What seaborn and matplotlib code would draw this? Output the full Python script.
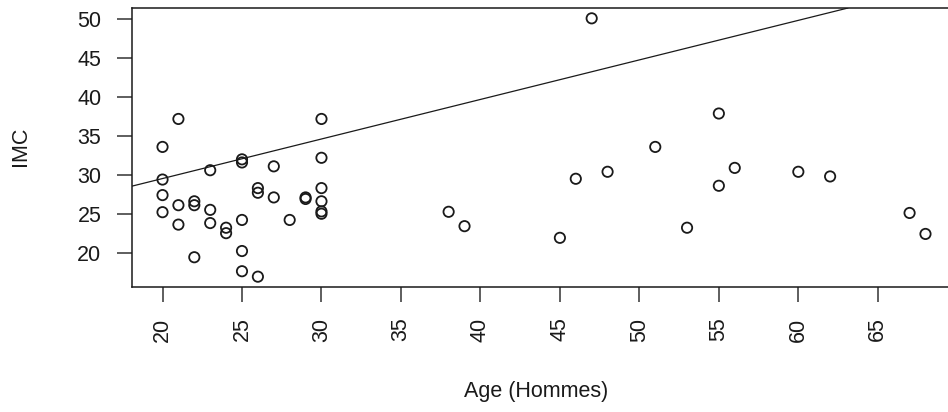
import matplotlib
matplotlib.use('Agg')
import matplotlib.pyplot as plt
import seaborn as sns
import pandas as pd

# points (age, IMC)
age = [20, 20, 20, 20, 21, 21, 21, 22, 22, 22, 23, 23, 23, 24, 24,
       25, 25, 25, 25, 25, 26, 26, 26, 27, 27, 28, 29, 29,
       30, 30, 30, 30, 30, 30,
       38, 39, 45, 46, 47, 48, 51, 53, 55, 55, 56, 60, 62, 67, 68]
imc = [33.6, 29.4, 27.4, 25.2, 37.2, 26.1, 23.6, 26.6, 26.1, 19.4, 30.6, 25.5, 23.8, 23.2, 22.5,
       32.0, 31.6, 24.2, 20.2, 17.6, 28.3, 27.7, 16.9, 31.1, 27.1, 24.2, 27.1, 26.9,
       37.2, 32.2, 28.3, 26.6, 25.3, 25.0,
       25.25, 23.4, 21.9, 29.5, 50.15, 30.4, 33.6, 23.2, 37.9, 28.6, 30.9, 30.4, 29.8, 25.1, 22.4]

# abline drawn over the plot
intercept = 19.35
slope = 0.509

x_ticks = [20, 25, 30, 35, 40, 45, 50, 55, 60, 65]
y_ticks = [20, 25, 30, 35, 40, 45, 50]

data = pd.DataFrame({'Age': age, 'IMC': imc})

sns.set_theme(style='white')
plt.rcParams['font.family'] = ['Liberation Sans', 'DejaVu Sans']

fig = plt.figure(figsize=(9.48, 4.12), dpi=100)
ax = fig.add_axes([132 / 948, 125 / 412, 824 / 948, 279 / 412])

sns.scatterplot(x='Age', y='IMC', data=data, ax=ax, marker='o', s=55,
                facecolors='none', edgecolor='#1a1a1a', linewidth=1.3)

ax.axline((0, intercept), slope=slope, color='#1a1a1a', linewidth=0.9)

# R-style 4% padding
xmin, xmax = min(age), max(age)
ymin, ymax = min(imc), max(imc)
ax.set_xlim(xmin - 0.04 * (xmax - xmin), xmax + 0.04 * (xmax - xmin))
ax.set_ylim(ymin - 0.04 * (ymax - ymin), ymax + 0.04 * (ymax - ymin))

ax.set_xticks(x_ticks)
ax.set_yticks(y_ticks)
ax.set_xticklabels([str(t) for t in x_ticks], rotation=90)
ax.tick_params(axis='both', direction='out', length=11, width=1.1, color='#333333',
               pad=11, labelsize=15.5, labelcolor='#1a1a1a', bottom=True, left=True)

for s in ax.spines.values():
    s.set_color('#1a1a1a')
    s.set_linewidth(1.1)
ax.spines['right'].set_visible(False)  # box runs past the image edge

ax.set_xlabel('Age (Hommes)', fontsize=15.5, color='#1a1a1a')
ax.set_ylabel('IMC', fontsize=15.5, color='#1a1a1a')
ax.xaxis.set_label_coords(0.49, -0.337)
ax.yaxis.set_label_coords(-0.122, 0.505)

fig.savefig('out.png', dpi=100)
